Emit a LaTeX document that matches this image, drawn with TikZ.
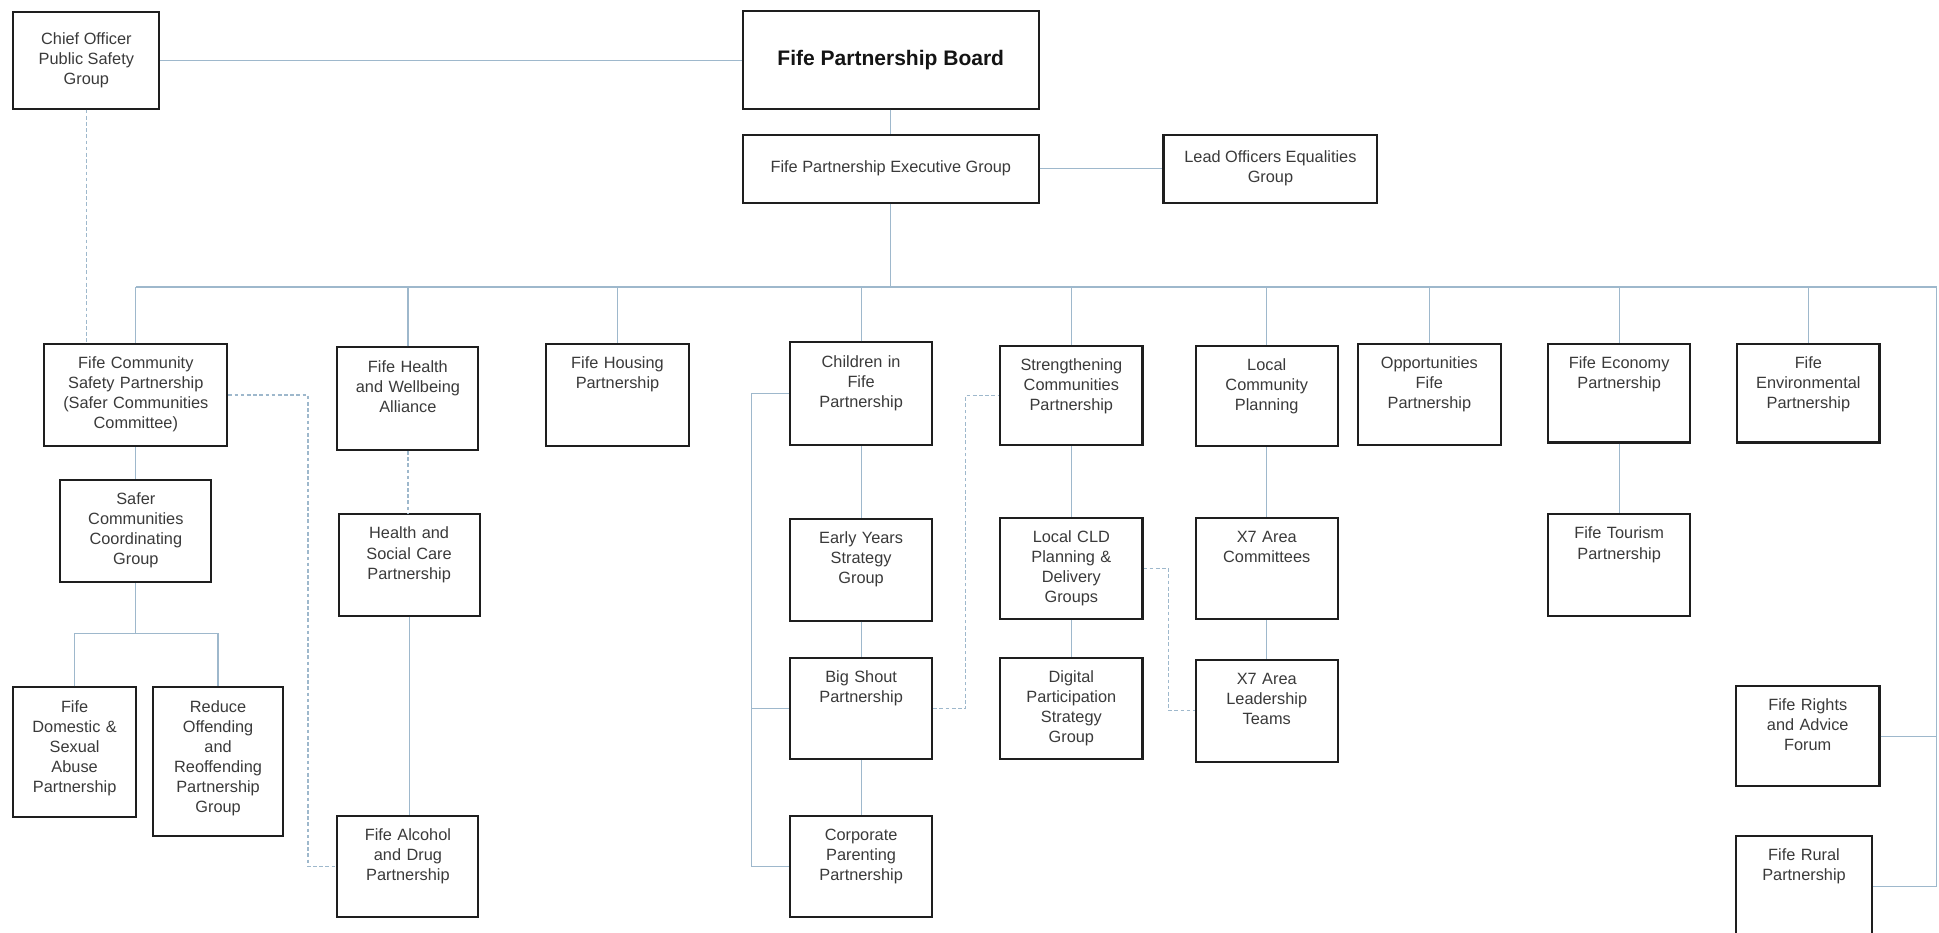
\documentclass[tikz,border=0pt]{standalone}
\usepackage{fontspec}
\setmainfont{Liberation Sans}
\usepackage{tikz}

\newcommand{\orgfont}{\fontsize{13.2}{16.2}\selectfont}
\newcommand{\boardfont}{\fontsize{17}{20}\selectfont\bfseries}

\begin{document}
\begin{tikzpicture}[x=1pt,y=1pt,yscale=-1,xscale=1,
		unit/.style={draw, line width=1.7pt, color={rgb, 255:red, 30; green, 30; blue, 30 }, text={rgb, 255:red, 58; green, 58; blue, 58 }, anchor=north west, align=center, inner xsep=2pt, inner ysep=5pt, font=\orgfont},
		topunit/.style={unit, text height=15pt},
		link/.style={color={rgb, 255:red, 158; green, 184; blue, 204 }, line width=1pt},
		dotlink/.style={link, dash pattern=on 3pt off 2pt}]
		
		\path [fill=white] (0,0) rectangle (1568,754);
		\useasboundingbox (0,0) rectangle (1568,754);
		
		% Board and groups at the top
		\node [unit, minimum width=118pt, minimum height=78pt] (chief) at (10,9) {Chief Officer\\Public Safety\\Group};
		\node [unit, minimum width=239pt, minimum height=79pt, font=\boardfont, text={rgb, 255:red, 20; green, 20; blue, 20 }] (board) at (600,8) {Fife Partnership Board};
		\node [unit, minimum width=239pt, minimum height=55pt] (exec) at (600,108) {Fife Partnership Executive Group};
		\node [unit, minimum width=173pt, minimum height=55pt] (lead) at (940,108) {Lead Officers Equalities\\Group};
		
		% Partnerships under the executive group
		\node [topunit, text width=144pt, text depth=58pt] (fcsp) at (35,277) {Fife Community\\Safety Partnership\\(Safer Communities\\Committee)};
		\node [topunit, text width=110pt, text depth=58pt] (health) at (272,280) {Fife Health\\and Wellbeing\\Alliance};
		\node [topunit, text width=111pt, text depth=58pt] (housing) at (441,277) {Fife Housing\\Partnership};
		\node [topunit, text width=111pt, text depth=58pt] (children) at (638,276) {Children in\\Fife\\Partnership};
		\node [topunit, text width=111pt, text depth=55pt] (strength) at (808,279) {Strengthening\\Communities\\Partnership};
		\node [topunit, text width=111pt, text depth=56pt] (lcp) at (966,279) {Local\\Community\\Planning};
		\node [topunit, text width=112pt, text depth=57pt] (opp) at (1097,277) {Opportunities\\Fife\\Partnership};
		\node [topunit, text width=111pt, text depth=55pt] (economy) at (1251,277) {Fife Economy\\Partnership};
		\node [topunit, text width=111pt, text depth=55pt] (environ) at (1404,277) {Fife\\Environmental\\Partnership};
		
		% Second and third rows
		\node [topunit, text width=118pt, text depth=58pt] (sccg) at (48,387) {Safer\\Communities\\Coordinating\\Group};
		\node [topunit, text width=95pt, text depth=80pt] (domestic) at (10,555) {Fife\\Domestic \&\\Sexual\\Abuse\\Partnership};
		\node [topunit, text width=101pt, text depth=95pt] (reduce) at (123,555) {Reduce\\Offending\\and\\Reoffending\\Partnership\\Group};
		\node [topunit, text width=110pt, text depth=57pt] (hscp) at (273,415) {Health and\\Social Care\\Partnership};
		\node [topunit, text width=110pt, text depth=57pt] (alcohol) at (272,659) {Fife Alcohol\\and Drug\\Partnership};
		\node [topunit, text width=111pt, text depth=57pt] (early) at (638,419) {Early Years\\Strategy\\Group};
		\node [topunit, text width=111pt, text depth=57pt] (bigshout) at (638,531) {Big Shout\\Partnership};
		\node [topunit, text width=111pt, text depth=57pt] (corporate) at (638,659) {Corporate\\Parenting\\Partnership};
		\node [topunit, text width=111pt, text depth=57pt] (cld) at (808,418) {Local CLD\\Planning \&\\Delivery\\Groups};
		\node [topunit, text width=111pt, text depth=57pt] (digital) at (808,531) {Digital\\Participation\\Strategy\\Group};
		\node [topunit, text width=111pt, text depth=57pt] (x7comm) at (966,418) {X7 Area\\Committees};
		\node [topunit, text width=111pt, text depth=57pt] (x7lead) at (966,533) {X7 Area\\Leadership\\Teams};
		\node [topunit, text width=111pt, text depth=57pt] (tourism) at (1251,415) {Fife Tourism\\Partnership};
		\node [topunit, text width=112pt, text depth=56pt] (rights) at (1403,554) {Fife Rights\\and Advice\\Forum};
		\node [topunit, text width=106pt, text depth=57pt] (rural) at (1403,675) {Fife Rural\\Partnership};
		
		% Connection
		\draw [link] (chief.east) -- (chief.east -| board.west);
		\draw [link] (board.south) -- (exec.north);
		\draw [link] (exec.east) -- (lead.west);
		
		% Connection: main bus
		\coordinate (busL) at (fcsp.north |- 0,232);
		\coordinate (busR) at (1566,232);
		\draw [link] (exec.south) -- (exec.south |- busL);
		\draw [link] (busL) -- (busR) -- (busR |- rural.east) -- (rural.east);
		\draw [link] (rights.east) -- (rights.east -| busR);
		\foreach \n in {fcsp,health,housing,children,strength,lcp,opp,economy,environ}
			\draw [link] (\n.north) -- (\n.north |- busL);
		
		% Connection: safer communities
		\coordinate (fork) at (sccg.south |- 0,512);
		\draw [link] (fcsp.south) -- (fcsp.south |- sccg.north);
		\draw [link] (sccg.south) -- (fork);
		\draw [link] (domestic.north) |- (fork) -| (reduce.north);
		\draw [dotlink] (chief.south) -- (chief.south |- fcsp.north);
		\coordinate (fcspdrop) at (249,0);
		\draw [dotlink] (fcsp.east) -- (fcsp.east -| fcspdrop) |- (alcohol.west);
		
		% Connection: health
		\draw [dotlink] (health.south) -- (health.south |- hscp.north);
		\draw [link] (hscp.south) -- (hscp.south |- alcohol.north);
		
		% Connection: children
		\coordinate (cbar) at (608,0);
		\draw [link] (children.south) -- (early.north);
		\draw [link] (early.south) -- (bigshout.north);
		\draw [link] (bigshout.south) -- (corporate.north);
		\draw [link] (children.west) -- (children.west -| cbar) -- (corporate.west -| cbar) -- (corporate.west);
		\draw [link] (bigshout.west) -- (bigshout.west -| cbar);
		\coordinate (bsdrop) at (781,0);
		\draw [dotlink] (bigshout.east) -- (bigshout.east -| bsdrop) |- (strength.west);
		
		% Connection: communities and planning
		\draw [link] (strength.south) -- (cld.north);
		\draw [link] (cld.south) -- (digital.north);
		\coordinate (clddrop) at (945,0);
		\draw [dotlink] (cld.east) -- (cld.east -| clddrop) |- (x7lead.west);
		\draw [link] (lcp.south) -- (x7comm.north);
		\draw [link] (x7comm.south) -- (x7lead.north);
		\draw [link] (economy.south) -- (tourism.north);
	\end{tikzpicture}
\end{document}
